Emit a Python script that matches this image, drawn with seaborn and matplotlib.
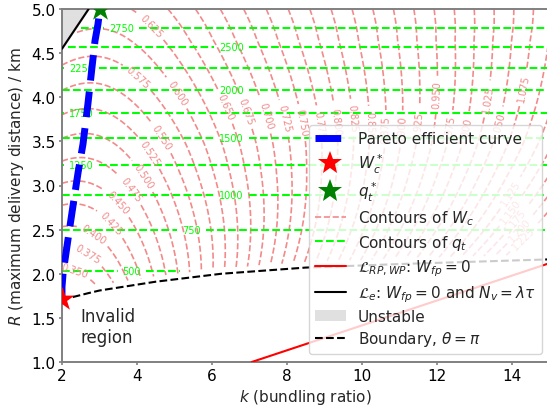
import numpy as np
import matplotlib
matplotlib.use("Agg")
import matplotlib.pyplot as plt
import seaborn as sns
from matplotlib.lines import Line2D
from matplotlib.patches import Patch

# ---------------- data ----------------
# Pareto efficient curve (k, R)
pareto_k = [2.00, 2.00, 2.03, 2.16, 2.29, 2.43, 2.56, 2.69, 2.80, 2.88, 2.96, 3.01]
pareto_R = [1.71, 1.85, 2.01, 2.39, 2.76, 3.15, 3.47, 3.92, 4.34, 4.64, 4.83, 5.00]

# optima
wc_star_k, wc_star_R = [2.0], [1.71]
qt_star_k, qt_star_R = [3.01], [5.0]

# minimum of W_c along the Pareto curve (estimated from the contour arcs)
wmin_R = [1.71, 2.07, 2.22, 2.47, 2.56, 2.81, 2.95, 3.10, 3.375, 3.56, 4.09, 4.26, 4.80, 5.00]
wmin_val = [0.31, 0.349, 0.369, 0.392, 0.406, 0.428, 0.443, 0.458, 0.480, 0.495, 0.537, 0.555, 0.604, 0.62]
# far-field growth rate of W_c with k at a few R values
wslope_R = [2.4, 3.7, 5.0]
wslope_val = [0.078, 0.055, 0.044]

# q_t contours: level and the R at which it lies
qt_levels = [500, 750, 1000, 1250, 1500, 1750, 2000, 2250, 2500, 2750]
qt_R = [2.037, 2.50, 2.886, 3.227, 3.542, 3.822, 4.088, 4.33, 4.565, 4.787]

# W_c contour levels
wc_levels = [0.350, 0.375, 0.400, 0.425, 0.450, 0.475, 0.500, 0.525, 0.550, 0.575,
             0.600, 0.625, 0.650, 0.675, 0.700, 0.725, 0.750, 0.775, 0.800, 0.825,
             0.850, 0.875, 0.900, 0.925, 0.950, 0.975, 1.000, 1.025, 1.050, 1.075,
             1.100, 1.125, 1.150, 1.175, 1.200, 1.225]

# contour label positions (k, R)
wc_label_pos = [(2.35, 2.07), (2.69, 2.22), (2.88, 2.47), (3.28, 2.56), (3.49, 2.81),
                (3.81, 2.95), (4.13, 3.10), (4.35, 3.375), (4.69, 3.56), (4.08, 4.26),
                (5.2, 4.09), (4.35, 4.80), (6.48, 3.92), (7.01, 3.86), (7.55, 3.81),
                (8.0, 3.77), (8.48, 3.72), (8.93, 3.70), (9.36, 3.73), (9.76, 3.77),
                (10.21, 3.69), (10.67, 3.64), (11.07, 3.64), (11.49, 3.69), (12.03, 4.03),
                (12.4, 3.64), (12.69, 3.64), (13.36, 3.98), (13.63, 3.69), (14.29, 4.11),
                (13.95, 2.92), (14.0, 2.70), (14.13, 2.59), (14.21, 2.50),
                (14.29, 2.41)]
qt_label_pos = [(3.86, 2.037), (5.46, 2.50), (6.52, 2.886), (2.52, 3.227), (6.52, 3.542),
                (2.52, 3.822), (6.52, 4.088), (2.52, 4.33), (6.52, 4.565), (3.59, 4.787)]

# boundary theta = pi
bnd_k = [2.0, 2.7, 3.0, 4.5, 6.25, 8.5, 11.0, 15.0]
bnd_R = [1.705, 1.78, 1.81, 1.91, 2.00, 2.07, 2.11, 2.163]
# L_RP,WP : W_fp = 0
lrp_k = [7.06, 15.0]
lrp_R = [1.00, 2.12]
# L_e : W_fp = 0 and N_v = lambda tau
le_k = [2.0, 2.71]
le_R = [4.55, 5.00]

# ---------------- style ----------------
sns.set_theme(style="ticks", context="notebook")
plt.rcParams["font.family"] = ["DejaVu Sans"]
plt.rcParams["font.size"] = 11
plt.rcParams["axes.edgecolor"] = "#808080"
plt.rcParams["axes.linewidth"] = 1.4
plt.rcParams["xtick.color"] = "#808080"
plt.rcParams["ytick.color"] = "#808080"
plt.rcParams["xtick.labelcolor"] = "black"
plt.rcParams["ytick.labelcolor"] = "black"

fig = plt.figure(figsize=(5.47, 4.10), dpi=100)
ax = fig.add_axes([62 / 547, 1 - 363 / 410, (549.5 - 62) / 547, (363 - 10) / 410])

# ---------------- fields for the contours ----------------
kk = np.linspace(2.0, 15.0, 520)
rr = np.linspace(1.0, 5.0, 500)
K, R = np.meshgrid(kk, rr)

le_fit = np.polyfit(le_k, le_R, 1)
bnd_grid = np.interp(K, bnd_k, bnd_R)
le_grid = np.polyval(le_fit, K)
valid_w = (R > bnd_grid + 0.06) & (R < le_grid - 0.06)
valid_q = (R > bnd_grid + 0.09) & (R < le_grid - 0.08)

P = np.interp(R, pareto_R, pareto_k)
A = np.polyval(np.polyfit(wmin_R, wmin_val, 2), R)
sfit = np.polyfit(np.log(wslope_R), np.log(wslope_val), 1)
S = np.exp(np.polyval(sfit, np.log(R)))
d, e = 1.87, 0.0002
U = K - P
W = A + S * (np.sqrt(U ** 2 + d ** 2) - d) + e * U ** 2
W = np.ma.masked_where(~valid_w, W)

Q = np.polyval(np.polyfit(qt_R, qt_levels, 2), R)
Q = np.ma.masked_where(~valid_q, Q)

wc_color = "#f28a8a"
cs_w = ax.contour(K, R, W, levels=wc_levels, colors=wc_color, linestyles="--",
                  linewidths=1.2, zorder=1)
ax.clabel(cs_w, manual=wc_label_pos, inline=True, fontsize=7, fmt="%.3f")

cs_q = ax.contour(K, R, Q, levels=qt_levels, colors="lime", linestyles="--",
                  linewidths=1.5, zorder=2)
ax.clabel(cs_q, manual=qt_label_pos, inline=True, fontsize=7, fmt="%d")

# ---------------- lines and regions ----------------
ax.fill_between(le_k, le_R, 5.0, color="#e0e0e0", zorder=0.5)
sns.lineplot(x=le_k, y=le_R, ax=ax, color="black", lw=1.5, sort=False,
             estimator=None, legend=False, zorder=3)
sns.lineplot(x=lrp_k, y=lrp_R, ax=ax, color="red", lw=1.5, sort=False,
             estimator=None, legend=False, zorder=3)
sns.lineplot(x=bnd_k, y=bnd_R, ax=ax, color="black", linestyle="--", lw=1.5,
             sort=False, estimator=None, legend=False, zorder=3)
sns.lineplot(x=pareto_k, y=pareto_R, ax=ax, color="blue", linestyle="--", lw=5,
             sort=False, estimator=None, legend=False, zorder=4)
sns.scatterplot(x=wc_star_k, y=wc_star_R, ax=ax, marker="*", s=330, color="red",
                linewidth=0, legend=False, zorder=5)
sns.scatterplot(x=qt_star_k, y=qt_star_R, ax=ax, marker="*", s=330, color="green",
                linewidth=0, legend=False, zorder=5)

ax.text(2.5, 1.40, "Invalid\nregion", ha="left", va="center", fontsize=12)

ax.set_xlim(2.0, 15.0)
ax.set_ylim(1.0, 5.0)
ax.set_xticks([2, 4, 6, 8, 10, 12, 14])
ax.set_yticks([1.0, 1.5, 2.0, 2.5, 3.0, 3.5, 4.0, 4.5, 5.0])
ax.set_yticklabels(["1.0", "1.5", "2.0", "2.5", "3.0", "3.5", "4.0", "4.5", "5.0"])
ax.tick_params(labelsize=11, length=2.0, width=1.2, pad=2.5)
for sp in ax.spines.values():
    sp.set_visible(True)
    sp.set_color("#808080")
    sp.set_linewidth(1.4)
ax.set_xlabel("$k$ (bundling ratio)", fontsize=11, labelpad=3)
ax.set_ylabel("$R$ (maximum delivery distance) / km", fontsize=11, labelpad=4)

handles = [
    Line2D([], [], color="blue", lw=5, ls="--"),
    Line2D([], [], color="red", marker="*", ms=18, ls="none", mew=0),
    Line2D([], [], color="green", marker="*", ms=18, ls="none", mew=0),
    Line2D([], [], color=wc_color, lw=1.2, ls="--"),
    Line2D([], [], color="lime", lw=1.5, ls="--"),
    Line2D([], [], color="red", lw=1.5),
    Line2D([], [], color="black", lw=1.5),
    Patch(facecolor="#e0e0e0", edgecolor="none"),
    Line2D([], [], color="black", lw=1.5, ls="--"),
]
labels = [
    "Pareto efficient curve",
    "$W_c^*$",
    "$q_t^*$",
    "Contours of $W_c$",
    "Contours of $q_t$",
    r"$\mathcal{L}_{RP,WP}$: $W_{fp}=0$",
    r"$\mathcal{L}_e$: $W_{fp}=0$ and $N_v=\lambda\tau$",
    "Unstable",
    r"Boundary, $\theta=\pi$",
]
leg = ax.legend(handles, labels, loc="lower right", fontsize=11, frameon=True,
                framealpha=0.8, edgecolor="#cccccc", fancybox=True,
                labelspacing=0.35)
leg.set_zorder(10)

fig.savefig("out.png", dpi=100)
